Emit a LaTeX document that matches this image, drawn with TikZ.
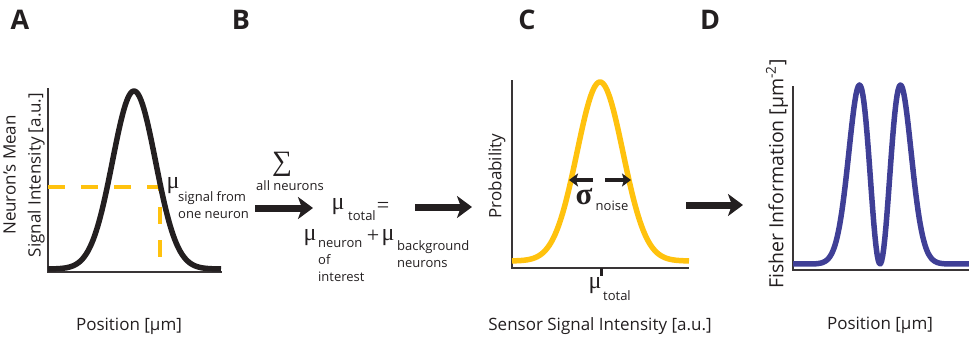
\documentclass[tikz,border=0pt]{standalone}
\usepackage{fontspec}
\setmainfont{Open Sans}
\newfontfamily\grk{Liberation Serif}
\usetikzlibrary{arrows.meta,positioning}
\definecolor{ink}{RGB}{35,31,32}
\definecolor{gold}{RGB}{255,194,14}
\definecolor{indigo}{RGB}{63,63,150}
\tikzset{
  axis/.style={draw=ink!90,line width=1.6pt},
  curve/.style={draw=#1,line width=5.5pt,line join=round},
  curve/.default=ink,
  big arrow/.style={-{Stealth[length=15pt,width=22pt,inset=4pt]},draw=ink,line width=7pt},
  small arrow/.style={-{Stealth[length=9pt,width=13pt,inset=2pt]},draw=ink,line width=3.5pt},
  guide/.style={draw=gold,line width=4.5pt,dash pattern=on 17pt off 16pt},
  panel/.style={font=\fontsize{27}{27}\selectfont\bfseries,text=ink,inner sep=0pt},
  lab/.style={font=\fontsize{17}{25}\selectfont,text=ink,inner sep=0pt,align=center},
  greek/.style={font=\grk\fontsize{24}{24}\selectfont,text=ink,inner sep=0pt},
  sub/.style={font=\fontsize{13}{17}\selectfont,text=ink,inner sep=0pt,align=left},
}
\begin{document}
\begin{tikzpicture}[x=1pt,y=-1pt]
  \useasboundingbox (0,0) rectangle (969,337);
  \foreach \x/\t in {20/A,241/B,527/C,710/D}
    \node[panel] (panel\t) at (\x,20) {\t};
  % A: one neuron
  \draw[axis] (48,88) -- (48,272) -- (222,272);
  \draw[guide] (48,187) -- (160,187) -- (160,272);
  \draw[curve] plot[domain=48:221,samples=120] (\x,{269-178*exp(-((\x-134)/21.5)^2/2)});
  \node[lab,rotate=90] (ylabA) at (24,175) {Neuron's Mean\\Signal Intensity [a.u.]};
  \node[lab] (xlabA) at (129,326) {Position [µm]};
  \node[greek] (muA) at (173,186) {μ};
  \node[sub,anchor=west] (subA) at (178,205) {signal from\\one neuron};
  % B: sum over neurons
  \coordinate (sumL) at (255,208);
  \coordinate (sumR) at (313,208);
  \draw[big arrow] (sumL) -- (sumR);
  \node[greek,font=\grk\fontsize{28}{28}\selectfont] (sigma) at (282,164) {∑};
  \node[sub] (alln) at (290,186) {all neurons};
  \node[greek] (muT) at (338,207) {μ};
  \node[sub] (subT) at (362,216) {total};
  \node[greek,font=\grk\fontsize{22}{22}\selectfont] (eq) at (383,207) {=};
  \node[greek] (muN) at (310,238) {μ};
  \node[sub,anchor=north west] (subN) at (318,240) {neuron\\of\\interest};
  \node[greek,font=\grk\fontsize{22}{22}\selectfont] (plus) at (373,236) {+};
  \node[greek] (muB) at (388,238) {μ};
  \node[sub,anchor=north west] (subB) at (397,240) {background\\neurons};
  \coordinate (totL) at (415,207);
  \coordinate (totR) at (472,207);
  \draw[big arrow] (totL) -- (totR);
  % C: sensor noise
  \draw[axis] (512,80) -- (512,268) -- (689,268);
  \draw[draw=ink,line width=3pt] (601,268) -- (601,276);
  \draw[curve=gold] plot[domain=512:689,samples=120] (\x,{261-179*exp(-((\x-600)/23)^2/2)});
  \coordinate (sigC) at (599,180);
  \coordinate (sigL) at (569,180);
  \coordinate (sigR) at (631,180);
  \draw[small arrow] ([xshift=-6pt]sigC) -- (sigL);
  \draw[small arrow] ([xshift=6pt]sigC) -- (sigR);
  \node[greek,font=\grk\bfseries\fontsize{31}{31}\selectfont] (sigN) at (584,197) {σ};
  \node[sub] (subS) at (612,206) {noise};
  \node[greek] (muC) at (595,286) {μ};
  \node[sub] (subC) at (617,296) {total};
  \node[lab,rotate=90] (ylabC) at (497,176) {Probability};
  \node[lab] (xlabC) at (600,326) {Sensor Signal Intensity [a.u.]};
  \coordinate (fisL) at (686,205);
  \coordinate (fisR) at (743,205);
  \draw[big arrow] (fisL) -- (fisR);
  % D: Fisher information
  \draw[axis] (793,86) -- (793,270) -- (969,270);
  \draw[curve=indigo] plot[domain=793:969,samples=160] (\x,{264-179*((\x-880)/20.5)^2*exp(1-((\x-880)/20.5)^2)});
  \node[lab,rotate=90,font=\fontsize{19.5}{25}\selectfont] (ylabD) at (777,174) {Fisher Information [µm\textsuperscript{-2}]};
  \node[lab] (xlabD) at (880,325) {Position [µm]};
\end{tikzpicture}
\end{document}
